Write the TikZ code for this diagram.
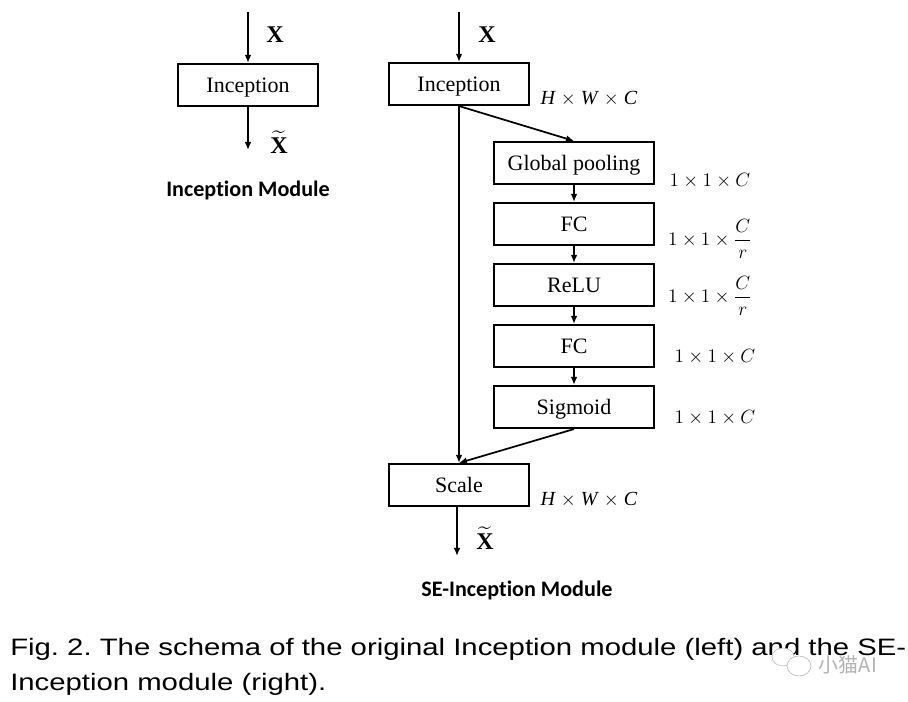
\documentclass[tikz,border=0pt]{standalone}
\usepackage{fontspec}
\usepackage{amsmath}
\setmainfont{Liberation Serif}
\newfontfamily\capfont{Liberation Sans}
\newfontfamily\titlefont[Ligatures=NoCommon]{Carlito}
\newfontfamily\cjkfont{Noto Sans CJK SC}
\usetikzlibrary{arrows.meta}
\frenchspacing

\begin{document}
\begin{tikzpicture}[x=0.75pt, y=-0.75pt,
    blk/.style={draw, line width=1.6pt, minimum width=105pt, minimum height=31.5pt,
      inner sep=0pt, text height=12pt, text depth=0pt, font=\fontsize{16.5}{18}\selectfont},
    wideblk/.style={blk, minimum width=120pt},
    flow/.style={line width=1.3pt, -{Latex[length=6pt, width=5pt]}},
    tensor/.style={font=\fontsize{18}{20}\selectfont\bfseries},
    dims/.style={font=\fontsize{15}{17}\selectfont},
    title/.style={font=\titlefont\bfseries\fontsize{16.6}{18}\selectfont},
    capline/.style={anchor=base west, inner sep=0pt, font=\capfont\fontsize{17.8}{20}\selectfont}]
  \useasboundingbox (0,0) rectangle (908,702);
  % Left: plain Inception module
  \coordinate (inL) at (248,12);
  \coordinate (outL) at (248,150);
  \node[blk] (incL) at (248,85) {Inception};
  \draw[flow] (inL) -- (incL);
  \draw[flow] (incL) -- (outL);
  \node[tensor] (xL) at (275,35) {X};
  \node[tensor] (xtL) at (279,142) {$\widetilde{\text{X}}$};
  \node[title] (nameL) at (248,190) {Inception Module};
  % Right: SE-Inception module
  \coordinate (inR) at (459,12);
  \coordinate (outR) at (457,556);
  \node[blk] (incR) at (459,84) {Inception};
  \node[wideblk] (pool) at (574,163) {Global pooling};
  \node[wideblk] (fcA) at (574,224) {FC};
  \node[wideblk] (relu) at (574,285) {ReLU};
  \node[wideblk] (fcB) at (574,346) {FC};
  \node[wideblk] (sig) at (574,407) {Sigmoid};
  \node[blk] (scale) at (459,485) {Scale};
  % Arrows
  \draw[flow] (inR) -- (incR);
  \draw[flow] (incR.south) -- (pool.north);
  \draw[flow] (pool) -- (fcA);
  \draw[flow] (fcA) -- (relu);
  \draw[flow] (relu) -- (fcB);
  \draw[flow] (fcB) -- (sig);
  \draw[flow] (incR.south) -- (scale.north);
  \draw[flow] (sig.south) -- (scale.north);
  \draw[flow] (scale.south -| outR) -- (outR);
  % Tensors and shapes
  \node[tensor] (xR) at (487,35) {X};
  \node[tensor] (xtR) at (485,538) {$\widetilde{\text{X}}$};
  \node[dims] (dInc) at (589,99) {\textit{H} $\times$ \textit{W} $\times$ \textit{C}};
  \node[dims] (dPool) at (710,181) {$1\times1\times C$};
  \node[dims] (dFcA) at (710,239) {$1\times1\times\dfrac{C}{r}$};
  \node[dims] (dRelu) at (710,296) {$1\times1\times\dfrac{C}{r}$};
  \node[dims] (dFcB) at (715,357) {$1\times1\times C$};
  \node[dims] (dSig) at (715,418) {$1\times1\times C$};
  \node[dims] (dScale) at (589,500) {\textit{H} $\times$ \textit{W} $\times$ \textit{C}};
  \node[title] (nameR) at (517,590) {SE-Inception Module};
  % Caption
  \node[capline] (capA) at (10,655)
    {\scalebox{1.235}[1]{Fig. 2. The schema of the original Inception module (left) and the SE-}};
  \node[capline] (capB) at (10,690)
    {\scalebox{1.235}[1]{Inception module (right).}};
  % Watermark
  \draw[gray!60, fill=white] (783,657) ellipse (11 and 9);
  \draw[gray!60, fill=white] (799,666) ellipse (12 and 10);
  \node[text=gray!60, font=\cjkfont\fontsize{15}{15}\selectfont] (mark) at (848,665) {小猫AI};
\end{tikzpicture}
\end{document}
